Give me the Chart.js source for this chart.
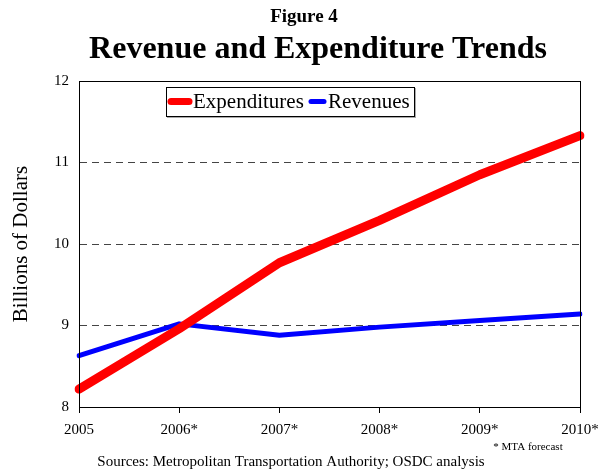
<!DOCTYPE html>
<html>
<head>
<meta charset="utf-8">
<script src="https://cdn.jsdelivr.net/npm/chart.js@4"></script>
<style>
  body { margin: 0; background: #fff; }
  #wrap { position: relative; width: 608px; height: 471px; }
</style>
</head>
<body>
<div id="wrap"><canvas id="chart" width="608" height="471"></canvas></div>
<script>
const years = ["2005", "2006*", "2007*", "2008*", "2009*", "2010*"];
const expenditures = [8.22, 8.96, 9.77, 10.29, 10.85, 11.33];
const revenues = [8.63, 9.02, 8.88, 8.98, 9.06, 9.14];
const yTicks = [8, 9, 10, 11, 12];

const serif = "'Liberation Serif', 'Times New Roman', serif";

// titles, footnote, legend box and the frame round the plot
const decorations = {
  id: 'decorations',
  afterDraw(chart) {
    const ctx = chart.ctx;
    const area = chart.chartArea;
    ctx.save();
    ctx.fillStyle = '#000';
    ctx.textAlign = 'center';
    ctx.textBaseline = 'middle';
    ctx.font = 'bold 19px ' + serif;
    ctx.fillText('Figure 4', 304, 17);
    ctx.font = 'bold 32px ' + serif;
    ctx.fillText('Revenue and Expenditure Trends', 318, 50);
    ctx.font = '15px ' + serif;
    ctx.fillText('Sources: Metropolitan Transportation Authority; OSDC analysis', 291, 462);
    ctx.font = '11px ' + serif;
    ctx.fillText('* MTA forecast', 528, 447);

    // frame
    ctx.strokeStyle = '#000';
    ctx.lineWidth = 1;
    ctx.strokeRect(area.left + 0.5, area.top + 0.5, area.right - area.left, area.bottom - area.top);

    // legend
    const lx = 166, ly = 87, lw = 248, lh = 29;
    ctx.fillStyle = '#aaa';
    ctx.fillRect(lx + 1, ly + 1, lw + 1, lh + 1);
    ctx.fillStyle = '#fff';
    ctx.fillRect(lx, ly, lw, lh);
    ctx.strokeStyle = '#000';
    ctx.strokeRect(lx + 0.5, ly + 0.5, lw, lh);
    ctx.font = '21px ' + serif;
    ctx.textAlign = 'left';
    const starts = [168, 308];
    const sampleWidths = [24, 19];
    chart.data.datasets.forEach((ds, i) => {
      const x = starts[i];
      const cy = ly + lh / 2;
      ctx.strokeStyle = ds.borderColor;
      ctx.lineWidth = i === 0 ? 7 : 5;
      ctx.lineCap = 'round';
      ctx.beginPath();
      ctx.moveTo(x + 3, cy);
      ctx.lineTo(x + sampleWidths[i] - 3, cy);
      ctx.stroke();
      ctx.fillStyle = '#000';
      ctx.fillText(ds.label, x + sampleWidths[i] + 1, cy + 1);
    });
    ctx.restore();
  }
};

new Chart(document.getElementById('chart'), {
  type: 'line',
  data: {
    labels: years,
    datasets: [
      {
        label: 'Expenditures',
        data: expenditures,
        borderColor: '#ff0000',
        borderWidth: 9,
        borderCapStyle: 'round',
        borderJoinStyle: 'round',
        pointRadius: 0,
        tension: 0
      },
      {
        label: 'Revenues',
        data: revenues,
        borderColor: '#0000ff',
        borderWidth: 5,
        borderCapStyle: 'round',
        borderJoinStyle: 'round',
        pointRadius: 0,
        tension: 0
      }
    ]
  },
  options: {
    responsive: false,
    animation: false,
    layout: { padding: { top: 81, right: 28, left: 0, bottom: 0 } },
    plugins: {
      legend: { display: false },
      tooltip: { enabled: false }
    },
    scales: {
      x: {
        offset: false,
        afterFit: s => { s.height = 64; },
        grid: { drawOnChartArea: false, drawTicks: true, tickLength: 6, color: '#000' },
        border: { display: true, color: '#000' },
        ticks: {
          color: '#000',
          font: { family: serif, size: 15 },
          padding: 8,
          maxRotation: 0,
          autoSkip: false
        }
      },
      y: {
        min: yTicks[0],
        max: yTicks[yTicks.length - 1],
        afterFit: s => { s.width = 79; },
        afterBuildTicks: s => { s.ticks = yTicks.map(v => ({ value: v })); },
        grid: { drawTicks: false, color: '#444', lineWidth: 1 },
        border: { display: true, color: '#000', dash: [7, 5] },
        ticks: {
          color: '#000',
          font: { family: serif, size: 15 },
          padding: 10
        },
        title: {
          display: true,
          text: 'Billions of Dollars',
          color: '#000',
          font: { family: serif, size: 21 },
          padding: { top: 9, bottom: 0 }
        }
      }
    }
  },
  plugins: [decorations]
});
</script>
</body>
</html>
